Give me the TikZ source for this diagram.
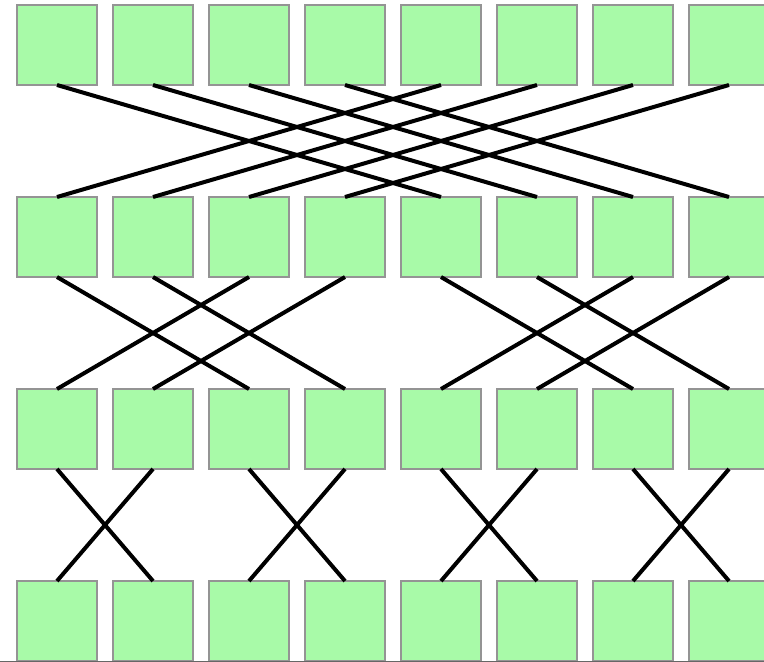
\documentclass[tikz,border=0pt]{standalone}
\begin{document}
\begin{tikzpicture}[x=1pt,y=-1pt,
  cell/.style={draw=black!42, line width=2.2pt, fill={rgb,255:red,168;green,250;blue,168}, minimum width=80pt, minimum height=80pt, inner sep=0pt, outer sep=0pt},
  wire/.style={line width=4pt, black}]
\useasboundingbox (0,0) rectangle (764,662);
\begin{scope}
\clip (0,0) rectangle (764,662);
\foreach \r in {0,1,2,3}{
  \foreach \i in {0,...,7}{
    \node[cell] (b\r\i) at ({57+96*\i},{45+192*\r}) {};
  }
}
\draw[black!60, line width=1pt] (0,661.5) -- (764,661.5);
\end{scope}
% stage 0 -> 1 : stride 4
\foreach \i in {0,...,3}{
  \pgfmathtruncatemacro{\j}{\i+4}
  \draw[wire] (b0\i.south) -- (b1\j.north);
  \draw[wire] (b0\j.south) -- (b1\i.north);
}
% stage 1 -> 2 : stride 2
\foreach \i in {0,1,4,5}{
  \pgfmathtruncatemacro{\j}{\i+2}
  \draw[wire] (b1\i.south) -- (b2\j.north);
  \draw[wire] (b1\j.south) -- (b2\i.north);
}
% stage 2 -> 3 : stride 1
\foreach \i in {0,2,4,6}{
  \pgfmathtruncatemacro{\j}{\i+1}
  \draw[wire] (b2\i.south) -- (b3\j.north);
  \draw[wire] (b2\j.south) -- (b3\i.north);
}
\end{tikzpicture}
\end{document}
